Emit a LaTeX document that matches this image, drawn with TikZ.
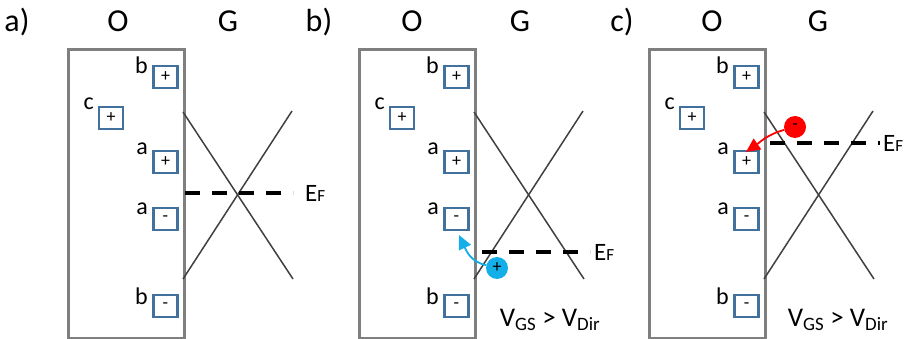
\documentclass[tikz,border=0pt]{standalone}
\usepackage{fontspec}
\setmainfont{Carlito}
\usetikzlibrary{arrows.meta}
\definecolor{boxgray}{HTML}{7F7F7F}
\definecolor{linegray}{HTML}{404040}
\definecolor{chargeblue}{HTML}{41719C}
\definecolor{holecyan}{HTML}{14AEE8}
\definecolor{elred}{HTML}{FF0000}
\tikzset{
 header/.style={font=\fontsize{32}{34}\selectfont, inner sep=0, anchor=base},
 site/.style={draw=chargeblue, line width=2.6pt, minimum width=24pt, minimum height=22pt, inner sep=0, font=\fontsize{18}{18}\selectfont},
 sitelbl/.style={font=\fontsize{24}{24}\selectfont, inner sep=0, anchor=base east},
 oxide/.style={draw=boxgray, line width=2.6pt, anchor=north west, minimum width=116pt, minimum height=289pt, inner sep=0},
 band/.style={draw=linegray, line width=1.5pt},
 fermi/.style={line width=4.5pt, dash pattern=on 15pt off 12pt},
 eflbl/.style={inner sep=0, anchor=west, font=\fontsize{25}{25}\selectfont},
 vlbl/.style={font=\fontsize{27}{27}\selectfont, inner sep=0},
 carrier/.style={circle, minimum size=22pt, inner sep=0, font=\fontsize{18}{18}\selectfont},
 hop/.style={line width=1.8pt, -{Triangle[length=14pt,width=13pt]}},
}
\newcommand\oxidepanel[2]{%
 \begin{scope}[xshift=#2pt]
  \node[oxide] (#1box) at (67,48) {};
  \node[site] (#1bp) at (165.5,77) {+};
  \node[site] (#1cp) at (111,118) {+};
  \node[site] (#1ap) at (165.5,162) {+};
  \node[site] (#1am) at (165.5,219) {-};
  \node[site] (#1bm) at (165.5,306) {-};
  \node[sitelbl] (#1lbp) at (148,74) {b};
  \node[sitelbl] (#1lcp) at (94,110) {c};
  \node[sitelbl] (#1lap) at (148,155) {a};
  \node[sitelbl] (#1lam) at (148,215) {a};
  \node[sitelbl] (#1lbm) at (148,305) {b};
  \draw[band] (183,112) -- (293,279);
  \draw[band] (183,279) -- (292,111);
 \end{scope}}
\newcommand\fermilbl{E{\fontsize{17}{17}\selectfont F}}
\begin{document}
\begin{tikzpicture}[x=1pt,y=-1pt]
\useasboundingbox (0,0) rectangle (908,339);
% headers
\node[header] (ha) at (17,32) {a)};
\node[header] (hao) at (118,32) {O};
\node[header] (hag) at (228,32) {G};
\node[header] (hb) at (319,32) {b)};
\node[header] (hbo) at (412,32) {O};
\node[header] (hbg) at (520,32) {G};
\node[header] (hc) at (622,32) {c)};
\node[header] (hco) at (712,32) {O};
\node[header] (hcg) at (818,32) {G};
% panels
\oxidepanel{A}{0}
\oxidepanel{B}{291}
\oxidepanel{C}{581}
% Fermi levels
\node[eflbl] (AEF) at (305,193) {\fermilbl};
\draw[fermi] (185,193) -- (293,193);
\node[eflbl] (BEF) at (594,252) {\fermilbl};
\draw[fermi] (482,252) -- (590,252);
\node[eflbl] (CEF) at (883,143) {\fermilbl};
\draw[fermi] (770,143) -- (880,143);
% conditions
\node[vlbl] (BV) at (550,320) {V\textsubscript{GS} > V\textsubscript{Dir}};
\node[vlbl] (CV) at (838,320) {V\textsubscript{GS} > V\textsubscript{Dir}};
% carriers
\node[carrier, fill=holecyan] (hole) at (497,268) {+};
\coordinate (holetip) at (459,235);
\draw[hop, holecyan] (hole.165) to[out=170,in=-65] (holetip);
\node[carrier, fill=elred] (elec) at (795,127) {-};
\coordinate (electip) at (746,152);
\draw[hop, elred] (elec.195) to[out=195,in=35] (electip);
\end{tikzpicture}
\end{document}
